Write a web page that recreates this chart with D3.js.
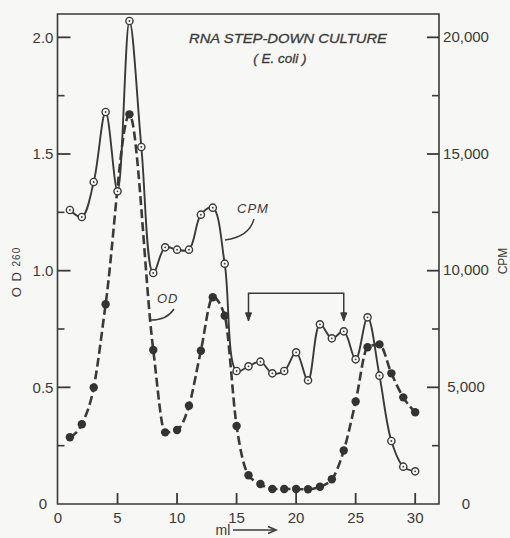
<!DOCTYPE html>
<html>
<head>
<meta charset="utf-8">
<script src="https://cdn.jsdelivr.net/npm/d3@7"></script>
<style>
  html, body { margin: 0; padding: 0; background: #f7f7f5; }
  svg { display: block; }
  text { font-family: "Liberation Sans", Arial, sans-serif; fill: #3a3a3a; }
</style>
</head>
<body>
<svg id="chart" width="510" height="538"></svg>
<script>
// ---- data ----
const cpmMl  = [1,2,3,4,5,6,7,8,9,10,11,12,13,14,15,16,17,18,19,20,21,22,23,24,25,26,27,28,29,30];
const cpmVal = [12600,12300,13800,16800,13400,20700,15300,9900,11000,10900,10900,12400,12700,10300,
                5700,5900,6100,5600,5700,6500,5300,7700,7100,7400,6200,8000,5500,2700,1600,1400];
const odMl   = [1,2,3,4,6,8,9,10,11,12,13,14,15,16,17,18,19,20,21,22,23,24,25,26,27,28,29,30];
const odVal  = [0.286,0.342,0.499,0.856,1.67,0.66,0.307,0.317,0.421,0.657,0.886,0.807,0.334,0.123,
                0.086,0.064,0.064,0.064,0.063,0.074,0.106,0.229,0.439,0.672,0.684,0.560,0.457,0.393];
const xTicks      = [0,5,10,15,20,25,30];
const odTicks     = [0,0.5,1.0,1.5,2.0];
const odMinor     = [0.25,0.75,1.25,1.75];
const cpmTicks    = [0,5000,10000,15000,20000];
const cpmMinor    = [2500,7500,12500,17500];
const odTickLabels  = ["0","0.5","1.0","1.5","2.0"];
const cpmTickLabels = ["0","5,000","10,000","15,000","20,000"];
const bracketMl = [16, 24];
const bracketOd = 0.903;
const bracketTipOd = 0.785;

// ---- layout ----
const L = 57.5, R = 439, T = 14, B = 504;
const ink = "#3a3a3a";
const svg = d3.select("#chart");

const x = d3.scaleLinear().domain([0, 32]).range([L + 0.5, R]);
const yOd = d3.scaleLinear().domain([0, 2.1]).range([B, T]);
const yCpm = d3.scaleLinear().domain([0, 21000]).range([B, T]);

// frame: top, left, right, bottom
svg.append("path")
  .attr("d", `M${L},${B} L${L},${T} L${R},${T} L${R},${B} Z`)
  .attr("fill", "none").attr("stroke", ink).attr("stroke-width", 1.6);

// left axis ticks (inward)
const gL = svg.append("g");
gL.selectAll("line.maj").data(odTicks.filter(d => d > 0)).join("line")
  .attr("x1", L).attr("x2", L + 13).attr("y1", d => yOd(d)).attr("y2", d => yOd(d))
  .attr("stroke", ink).attr("stroke-width", 1.8);
gL.selectAll("line.min").data(odMinor).join("line").attr("class","min")
  .attr("x1", L).attr("x2", L + 7).attr("y1", d => yOd(d)).attr("y2", d => yOd(d))
  .attr("stroke", ink).attr("stroke-width", 1.6);
gL.selectAll("text").data(odTicks).join("text")
  .attr("x", 43).attr("y", d => yOd(d)).attr("dy", "0.36em")
  .attr("text-anchor", "middle").attr("font-size", 15)
  .text((d, i) => odTickLabels[i]);

// right axis ticks (inward)
const gR = svg.append("g");
gR.selectAll("line.maj").data(cpmTicks.filter(d => d > 0)).join("line")
  .attr("x1", R).attr("x2", R - 12).attr("y1", d => yCpm(d)).attr("y2", d => yCpm(d))
  .attr("stroke", ink).attr("stroke-width", 1.8);
gR.selectAll("line.min").data(cpmMinor).join("line").attr("class","min")
  .attr("x1", R).attr("x2", R - 7).attr("y1", d => yCpm(d)).attr("y2", d => yCpm(d))
  .attr("stroke", ink).attr("stroke-width", 1.6);
gR.selectAll("text").data(cpmTicks).join("text")
  .attr("x", 466).attr("y", d => yCpm(d)).attr("dy", "0.3em")
  .attr("text-anchor", "middle").attr("font-size", 15)
  .text((d, i) => cpmTickLabels[i]);

// bottom axis ticks (inward)
const gB = svg.append("g");
gB.selectAll("line").data(xTicks.filter(d => d > 0)).join("line")
  .attr("x1", d => x(d)).attr("x2", d => x(d)).attr("y1", B).attr("y2", B - 11)
  .attr("stroke", ink).attr("stroke-width", 1.8);
gB.selectAll("text").data(xTicks).join("text")
  .attr("x", d => x(d)).attr("y", 523)
  .attr("text-anchor", "middle").attr("font-size", 15)
  .text(d => d);

// axis titles
svg.append("text").attr("x", 223).attr("y", 535).attr("font-size", 14)
  .attr("text-anchor", "middle").text("ml");
svg.append("line").attr("x1", 233).attr("x2", 274).attr("y1", 530).attr("y2", 530)
  .attr("stroke", ink).attr("stroke-width", 1.6);
svg.append("path").attr("d", "M268,526.5 L276,530 L268,533.5").attr("fill", "none")
  .attr("stroke", ink).attr("stroke-width", 1.6);

const odTitle = svg.append("text")
  .attr("transform", "translate(21,272) rotate(-90)")
  .attr("text-anchor", "middle").attr("font-size", 13).attr("letter-spacing", 1);
odTitle.append("tspan").text("O D ");
odTitle.append("tspan").attr("font-size", 10).attr("dy", -1).text("260");

svg.append("text")
  .attr("transform", "translate(507,261) rotate(-90)")
  .attr("text-anchor", "middle").attr("font-size", 12).text("CPM");

// title
svg.append("text").attr("x", 288).attr("y", 43)
  .attr("text-anchor", "middle").attr("font-size", 13.5).attr("font-style", "italic")
  .attr("textLength", 198).attr("lengthAdjust", "spacingAndGlyphs")
  .style("stroke", "#3a3a3a").style("stroke-width", 0.3)
  .text("RNA STEP-DOWN CULTURE");
svg.append("text").attr("x", 280).attr("y", 63)
  .attr("text-anchor", "middle").attr("font-size", 13.5).attr("font-style", "italic")
  .style("stroke", "#3a3a3a").style("stroke-width", 0.3)
  .text("( E. coli )");

// curve lines
const odLine = d3.line().x((d, i) => x(odMl[i])).y(d => yOd(d)).curve(d3.curveMonotoneX);
const cpmLine = d3.line().x((d, i) => x(cpmMl[i])).y(d => yCpm(d)).curve(d3.curveCatmullRom.alpha(0.5));

svg.append("path").attr("d", odLine(odVal)).attr("fill", "none")
  .attr("stroke", ink).attr("stroke-width", 2.6).attr("stroke-dasharray", "9,4");
svg.append("path").attr("d", cpmLine(cpmVal)).attr("fill", "none")
  .attr("stroke", ink).attr("stroke-width", 1.9);

// OD dots
svg.append("g").selectAll("circle").data(odVal).join("circle")
  .attr("cx", (d, i) => x(odMl[i])).attr("cy", d => yOd(d)).attr("r", 4.2)
  .attr("fill", "#333");

// CPM open circles
const gc = svg.append("g");
gc.selectAll("circle.o").data(cpmVal).join("circle").attr("class", "o")
  .attr("cx", (d, i) => x(cpmMl[i])).attr("cy", d => yCpm(d)).attr("r", 3.6)
  .attr("fill", "#f7f7f5").attr("stroke", ink).attr("stroke-width", 1.4);
gc.selectAll("circle.c").data(cpmVal).join("circle").attr("class", "c")
  .attr("cx", (d, i) => x(cpmMl[i])).attr("cy", d => yCpm(d)).attr("r", 0.9)
  .attr("fill", ink);

// series labels with leaders
svg.append("text").attr("x", 237).attr("y", 213).attr("font-size", 13)
  .attr("font-style", "italic").attr("letter-spacing", 1).text("CPM");
svg.append("path").attr("d", "M254,219 Q249,237 225,240").attr("fill", "none")
  .attr("stroke", ink).attr("stroke-width", 1.4);
svg.append("text").attr("x", 157).attr("y", 303).attr("font-size", 13)
  .attr("font-style", "italic").attr("letter-spacing", 1).text("OD");
svg.append("path").attr("d", "M174,309 Q167,320 151,320").attr("fill", "none")
  .attr("stroke", ink).attr("stroke-width", 1.4);

// bracket with arrows
const bx1 = x(bracketMl[0]), bx2 = x(bracketMl[1]);
const by = yOd(bracketOd), bt = yOd(bracketTipOd);
svg.append("path")
  .attr("d", `M${bx1},${bt} L${bx1},${by} L${bx2},${by} L${bx2},${bt}`)
  .attr("fill", "none").attr("stroke", ink).attr("stroke-width", 1.5);
[bx1, bx2].forEach(bx => {
  svg.append("path").attr("d", `M${bx-3},${bt-8} L${bx},${bt} L${bx+3},${bt-8} Z`)
    .attr("fill", ink).attr("stroke", ink).attr("stroke-width", 1);
});
</script>
</body>
</html>
